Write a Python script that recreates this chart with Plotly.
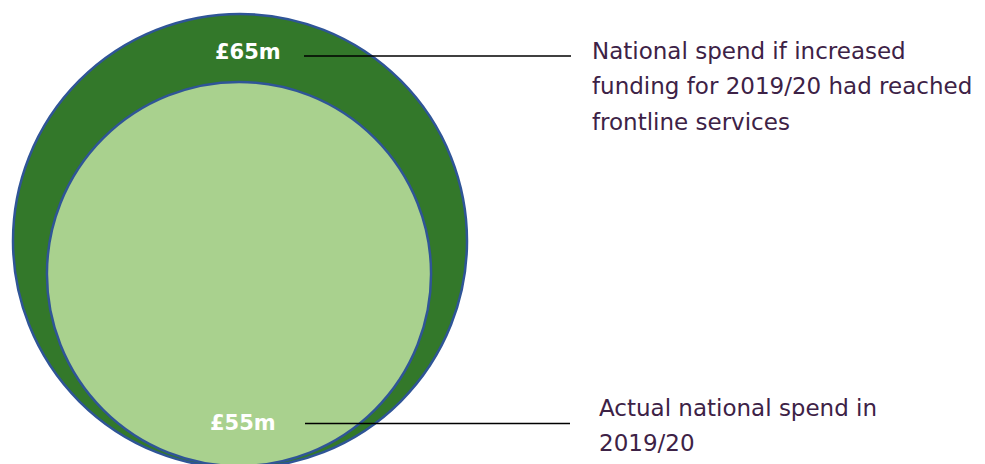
import plotly.graph_objects as go

# Data
values = [65, 55]  # £m: national spend if increased funding reached frontline, actual
value_labels = ["£65m", "£55m"]
descriptions = [
    ["National spend if increased", "funding for 2019/20 had reached", "frontline services"],
    ["Actual national spend in", "2019/20"],
]
fills = ["#33782a", "#a9d18e"]

W, H = 985, 464
OFF = 8  # browser body margin
scale = 227 / 65  # pixels per £m of radius
centers = [(240, 241), (239, 274)]

fig = go.Figure()
fig.add_trace(go.Scatter(x=[OFF, W], y=[OFF, H], mode="markers", marker=dict(opacity=0),
                         hoverinfo="skip", showlegend=False))

shapes = []
for v, (cx, cy), col in zip(values, centers, fills):
    r = v * scale
    shapes.append(dict(type="circle", xref="x", yref="y", x0=cx - r, x1=cx + r, y0=cy - r, y1=cy + r,
                       fillcolor=col, line=dict(color="#2f5597", width=2.5), layer="below"))

label_pos = [(248, 52), (243, 423)]
line_pos = [(304, 571, 56), (305, 570, 423.5)]
desc_pos = [(590, 51), (597, 407.5)]
line_gap = 35.3

annotations = []
for lab, (lx, ly) in zip(value_labels, label_pos):
    annotations.append(dict(x=lx, y=ly, xref="x", yref="y", text=lab, showarrow=False,
                            font=dict(family="DejaVu Sans", size=21, color="white", weight="bold"),
                            xanchor="center", yanchor="middle"))
for (x0, x1, y) in line_pos:
    shapes.append(dict(type="line", xref="x", yref="y", x0=x0, x1=x1, y0=y, y1=y,
                       line=dict(color="black", width=1.5)))
for lines, (dx, dy) in zip(descriptions, desc_pos):
    for i, t in enumerate(lines):
        annotations.append(dict(x=dx, y=dy + i * line_gap, xref="x", yref="y", text=t, showarrow=False,
                                align="left",
                                font=dict(family="DejaVu Sans", size=23, color="#3d2246"),
                                xanchor="left", yanchor="middle"))

fig.update_layout(
    width=W, height=H,
    margin=dict(l=0, r=0, t=0, b=0),
    paper_bgcolor="white", plot_bgcolor="white",
    xaxis=dict(range=[OFF, W + OFF], visible=False, fixedrange=True),
    yaxis=dict(range=[H + OFF, OFF], visible=False, fixedrange=True),
    shapes=shapes, annotations=annotations, showlegend=False,
)
fig.write_html("out.html")
